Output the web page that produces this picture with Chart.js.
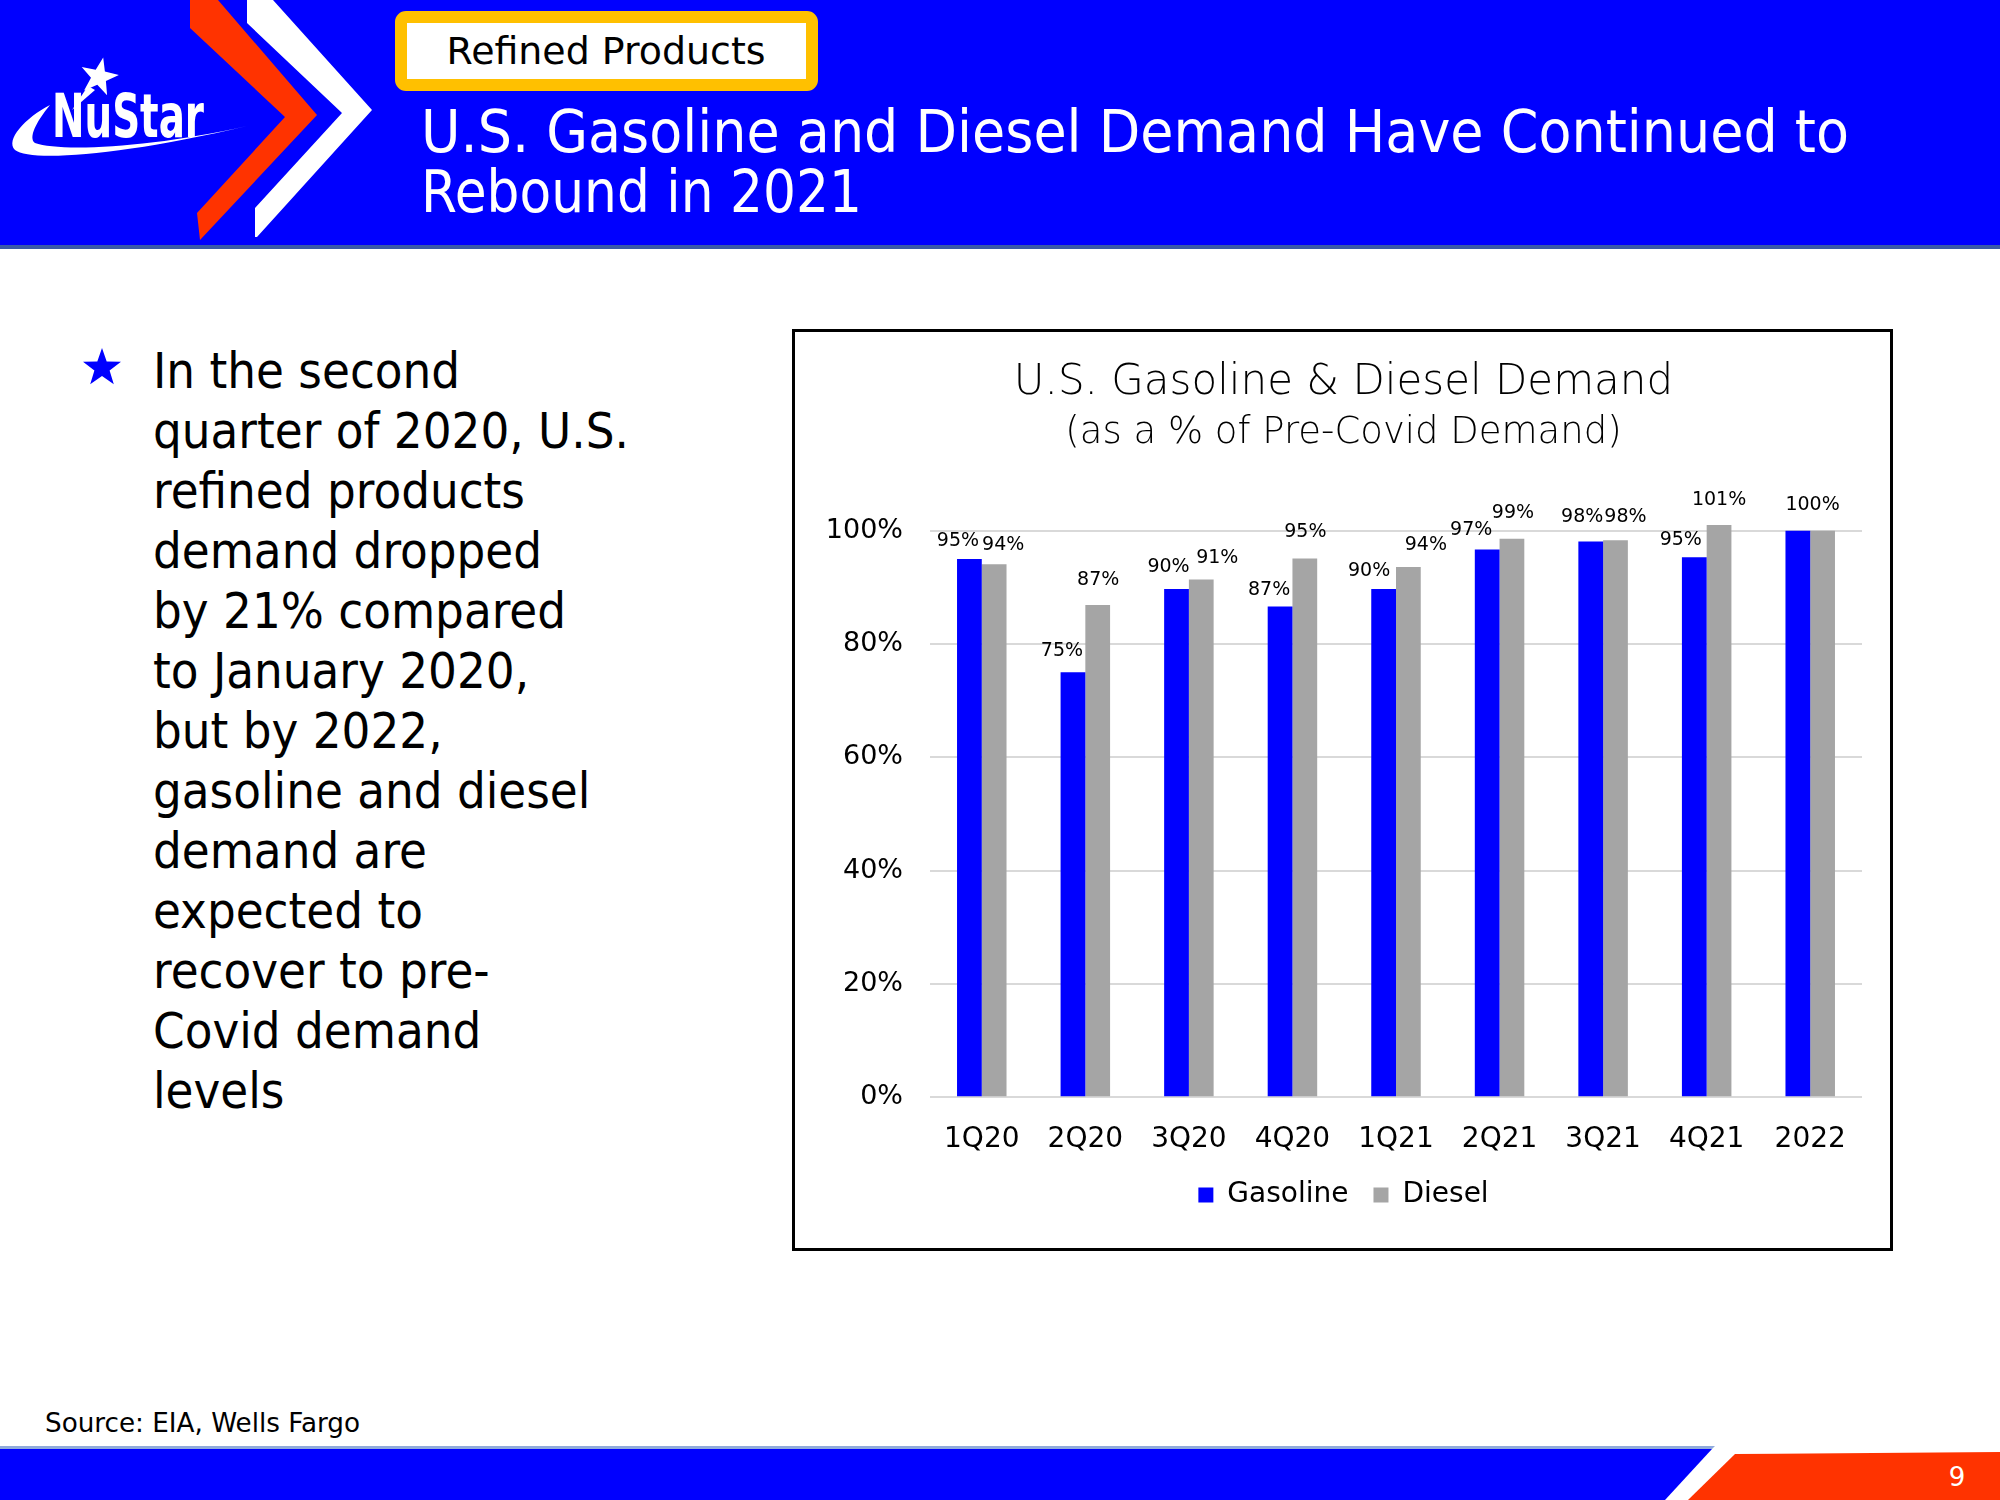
<!DOCTYPE html>
<html>
<head>
<meta charset="utf-8">
<title>U.S. Gasoline &amp; Diesel Demand</title>
<script src="https://cdn.jsdelivr.net/npm/chart.js@4.4.1/dist/chart.umd.min.js"></script>
<style>
  html, body { margin:0; padding:0; background:#fff; }
  body { width:2000px; height:1500px; position:relative; overflow:hidden; }
  #deco { position:absolute; left:0; top:0; }
  #chartBox { position:absolute; left:792px; top:329px; width:1101px; height:922px; box-sizing:border-box; border:3px solid #000; background:#fff; }
  #chartCanvas { position:absolute; left:0; top:0; }
</style>
</head>
<body>
<svg id="deco" width="2000" height="1500" xmlns="http://www.w3.org/2000/svg" font-family="DejaVu Sans">
  <!-- header band -->
  <rect x="0" y="0" width="2000" height="247" fill="#0000FF"/>
  <rect x="0" y="245" width="2000" height="4" fill="#3A5AA8"/>
  <polygon points="190,0 218,0 317,115 200,240 197,213 285,117 190,28" fill="#FF3300"/>
  <polygon points="247,0 273,0 372,110 257,237 255,237 255,208 342,113 247,23" fill="#FFFFFF"/>
  <!-- logo -->
  <path d="M50,105 C25,118 5,140 15,150 C30,162 120,156 247,126 C150,148 60,152 35,143 C28,138 36,122 50,105 Z" fill="#fff"/>
  <polygon id="logoStar" fill="#fff"/>
  <polygon points="88,86 95,90 72,110" fill="#fff"/>
  <text x="52" y="137" font-size="60" font-weight="bold" fill="#fff" textLength="152" lengthAdjust="spacingAndGlyphs">NuStar</text>
  <!-- section tag -->
  <rect x="401" y="17" width="411" height="68" rx="5" fill="#fff" stroke="#FFC000" stroke-width="12"/>
  <text x="606" y="64" font-size="37" text-anchor="middle" fill="#000" textLength="319" lengthAdjust="spacingAndGlyphs">Refined Products</text>
  <!-- slide title -->
  <text x="421" y="152" font-size="58" fill="#fff" textLength="1428" lengthAdjust="spacingAndGlyphs">U.S. Gasoline and Diesel Demand Have Continued to</text>
  <text x="421" y="212" font-size="58" fill="#fff" textLength="441" lengthAdjust="spacingAndGlyphs">Rebound in 2021</text>
  <!-- bullet -->
  <polygon id="bulletStar" fill="#0000FF"/>
  <g id="bullets" font-size="49" fill="#000">
    <text x="0" y="388">In the second</text>
    <text x="0" y="448" id="bLong">quarter of 2020, U.S.</text>
    <text x="0" y="508">refined products</text>
    <text x="0" y="568">demand dropped</text>
    <text x="0" y="628">by 21% compared</text>
    <text x="0" y="688">to January 2020,</text>
    <text x="0" y="748">but by 2022,</text>
    <text x="0" y="808">gasoline and diesel</text>
    <text x="0" y="868">demand are</text>
    <text x="0" y="928">expected to</text>
    <text x="0" y="988">recover to pre-</text>
    <text x="0" y="1048">Covid demand</text>
    <text x="0" y="1108">levels</text>
  </g>
  <!-- source -->
  <text x="45" y="1432" font-size="27" fill="#000" textLength="315" lengthAdjust="spacingAndGlyphs">Source: EIA, Wells Fargo</text>
  <!-- footer -->
  <polygon points="0,1446 1715,1446 1712,1449 0,1449" fill="#8FAADC"/>
  <polygon points="0,1449 1712,1449 1665,1500 0,1500" fill="#0000FF"/>
  <polygon points="1735,1454 2000,1452 2000,1500 1688,1500" fill="#FF3300"/>
  <text x="1957" y="1486" font-size="26" text-anchor="middle" fill="#fff">9</text>
</svg>

<div id="chartBox"><canvas id="chartCanvas" width="1095" height="916"></canvas></div>

<script>
// ---------- data ----------
const categories = ['1Q20', '2Q20', '3Q20', '4Q20', '1Q21', '2Q21', '3Q21', '4Q21', '2022'];
const seriesNames = ['Gasoline', 'Diesel'];
const gasoline = [95.0, 75.0, 89.7, 86.6, 89.7, 96.7, 98.1, 95.3, 100.0];
const diesel   = [94.1, 86.9, 91.4, 95.1, 93.6, 98.6, 98.3, 101.0, 100.0];
const yTicks   = [0, 20, 40, 60, 80, 100];

// label placement (offsets relative to each bar's top centre, px); null = no label
const gasolineLabelNudge = [[-11.5,-17.5],[-11,-21],[-8,-22],[-11,-17],[-14.5,-18],[-16,-19],[-8.5,-24.5],[-13.5,-17],null];
const dieselLabelNudge   = [[9,-19],[0.5,-25],[16,-21],[0.5,-26],[17.5,-22],[1,-25.5],[10,-23.5],[0,-25],[-10,-25.5]];

// ---------- decorations ----------
function starPoints(cx, cy, R, r, rotDeg) {
  const pts = [];
  for (let k = 0; k < 10; k++) {
    const rad = (k % 2 === 0) ? R : r;
    const a = (rotDeg - 90 + k * 36) * Math.PI / 180;
    pts.push((cx + rad * Math.cos(a)).toFixed(1) + ',' + (cy + rad * Math.sin(a)).toFixed(1));
  }
  return pts.join(' ');
}
document.getElementById('logoStar').setAttribute('points', starPoints(99, 77, 20, 8, 12));
document.getElementById('bulletStar').setAttribute('points', starPoints(102, 368, 20, 8, 0));

const bLong = document.getElementById('bLong');
const sx = 476 / bLong.getComputedTextLength();
document.getElementById('bullets').setAttribute('transform', 'translate(153,0) scale(' + sx.toFixed(4) + ',1)');

// ---------- chart ----------
const FAMILY = '"DejaVu Sans", sans-serif';
Chart.defaults.color = '#000';
Chart.defaults.font.family = FAMILY;

const labelPlugin = {
  id: 'barLabels',
  afterDatasetsDraw(chart) {
    const ctx = chart.ctx;
    const nudges = [gasolineLabelNudge, dieselLabelNudge];
    ctx.save();
    ctx.font = '19px ' + FAMILY;
    ctx.fillStyle = '#000';
    ctx.textAlign = 'center';
    ctx.textBaseline = 'middle';
    chart.data.datasets.forEach((ds, i) => {
      const meta = chart.getDatasetMeta(i);
      meta.data.forEach((bar, j) => {
        const n = nudges[i][j];
        if (!n) return;
        ctx.fillText(Math.round(ds.data[j]) + '%', bar.x + n[0], bar.y + n[1]);
      });
    });
    ctx.restore();
  }
};

new Chart(document.getElementById('chartCanvas').getContext('2d'), {
  type: 'bar',
  data: {
    labels: categories,
    datasets: [
      { label: seriesNames[0], data: gasoline, backgroundColor: '#0000FF', clip: false },
      { label: seriesNames[1], data: diesel, backgroundColor: '#A5A5A5', clip: false }
    ]
  },
  options: {
    responsive: false,
    animation: false,
    devicePixelRatio: 1,
    layout: { padding: { left: 30, right: 28, top: 0, bottom: 29 } },
    datasets: { bar: { categoryPercentage: 0.478, barPercentage: 1.0 } },
    plugins: {
      title: {
        display: true, text: 'U.S. Gasoline & Diesel Demand', color: '#000',
        font: { family: FAMILY, size: 42, weight: '200' },
        padding: { top: 25.8, bottom: 0 }
      },
      subtitle: {
        display: true, text: '(as a % of Pre-Covid Demand)', color: '#000',
        font: { family: FAMILY, size: 37, weight: '200' },
        padding: { top: 2.6, bottom: 75.5 }
      },
      legend: {
        position: 'bottom',
        labels: { boxWidth: 15, boxHeight: 15, padding: 25, color: '#000', font: { family: FAMILY, size: 28, weight: 'normal' } }
      },
      tooltip: { enabled: false }
    },
    scales: {
      x: {
        grid: { display: false }, border: { display: false },
        ticks: { padding: 17.5, color: '#000', font: { family: FAMILY, size: 28, weight: 'normal' } },
        afterFit(s) { s.height = 58.7; }
      },
      y: {
        min: 0, max: 100,
        grid: { color: '#D9D9D9', lineWidth: 2, drawTicks: false },
        border: { display: false },
        ticks: { padding: 27, color: '#000', font: { family: FAMILY, size: 27, weight: 'normal' }, callback: v => v + '%' },
        afterBuildTicks(s) { s.ticks = yTicks.map(v => ({ value: v })); },
        afterFit(s) { s.width = 105; }
      }
    }
  },
  plugins: [labelPlugin]
});
</script>
</body>
</html>
